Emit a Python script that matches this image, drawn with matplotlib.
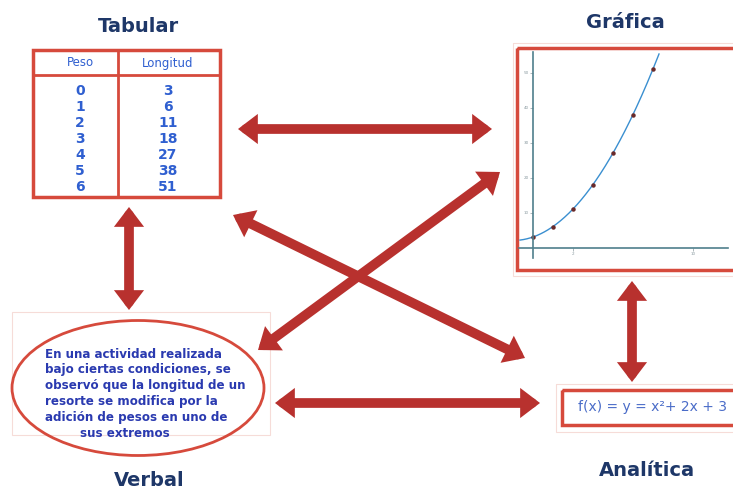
import numpy as np
import matplotlib
matplotlib.use('Agg')
import matplotlib.pyplot as plt
from matplotlib.patches import Rectangle, Ellipse, FancyArrowPatch

# data
peso = [0, 1, 2, 3, 4, 5, 6]
longitud = [3, 6, 11, 18, 27, 38, 51]
headers = ["Peso", "Longitud"]
verbal_lines = ["En una actividad realizada",
                "bajo ciertas condiciones, se",
                "observó que la longitud de un",
                "resorte se modifica por la",
                "adición de pesos en uno de",
                "sus extremos"]
formula = "f(x) = y = x²+ 2x + 3"
titles = ["Tabular", "Gráfica", "Verbal", "Analítica"]

W, H = 733, 493
red = '#d64a3c'
arrow_red = '#b8312e'
navy = '#1e3768'
blue = '#2f5fd0'

fig = plt.figure(figsize=(W/100, H/100), dpi=100)
ax = fig.add_axes([0, 0, 1, 1])
ax.set_xlim(0, W)
ax.set_ylim(H, 0)
ax.axis('off')

# titles
tpos = [(138, 26), (625, 22), (149, 480), (647, 471)]
for t, (x, y) in zip(titles, tpos):
    ax.text(x, y, t, fontsize=14, fontweight='heavy', color=navy,
            ha='center', va='center')

# table
ax.add_patch(Rectangle((33, 50), 187, 147, fill=False, ec=red, lw=2.5))
ax.plot([118, 118], [50, 197], color=red, lw=2)
ax.plot([33, 220], [75, 75], color=red, lw=2)
colx = [80, 168]
for h, x in zip(headers, colx):
    ax.text(x, 63, h, fontsize=8.5, color=blue, ha='center', va='center')
for i, (p, l) in enumerate(zip(peso, longitud)):
    y = 91 + i*16
    ax.text(colx[0], y, str(p), fontsize=10, fontweight='bold', color=blue, ha='center', va='center')
    ax.text(colx[1], y, str(l), fontsize=10, fontweight='bold', color=blue, ha='center', va='center')

# graph panel
ax.add_patch(Rectangle((513, 43), 230, 233, fill=False, ec='#f6dcd8', lw=0.8))
ax.add_patch(Rectangle((517, 48), 226, 222, fill=False, ec=red, lw=2.5))
gx = fig.add_axes([519/W, (H-258)/H, (728-519)/W, (258-52)/H])
gx.patch.set_alpha(0)
gx.set_xlim(-0.7, 9.75)
gx.set_ylim(-3, 55.86)
for s in ['top', 'right']:
    gx.spines[s].set_visible(False)
gx.spines['left'].set_position(('data', 0))
gx.spines['bottom'].set_position(('data', 0))
for s in ['left', 'bottom']:
    gx.spines[s].set_color('#4f7f8c')
    gx.spines[s].set_linewidth(1.2)
gx.set_xticks([2, 8])
gx.set_xticklabels(['2', '10'])
gx.set_yticks([10, 20, 30, 40, 50])
gx.set_yticklabels(['10', '20', '30', '40', '50'])
gx.tick_params(labelsize=3, colors='#8a9aa0', length=2, width=0.5, pad=1)
xs = np.linspace(-0.65, 6.3, 200)
gx.plot(xs, xs**2 + 2*xs + 3, color='#3a8fd0', lw=1)
gx.plot(peso, longitud, 'o', ms=2.2, color='#6a2a2a')

# verbal ellipse
ax.add_patch(Rectangle((12, 312), 258, 123, fill=False, ec='#f6dcd8', lw=0.8))
ax.add_patch(Ellipse((138, 388), 252, 135, fill=False, ec=red, lw=2))
for i, line in enumerate(verbal_lines):
    x = 80 if i == len(verbal_lines) - 1 else 45
    ax.text(x, 354 + i*15.9, line, fontsize=8.6, fontweight='bold', color='#2a3ab0',
            ha='left', va='center')

# analitica box
ax.add_patch(Rectangle((556, 384), 190, 48, fill=False, ec='#f6dcd8', lw=0.8))
ax.add_patch(Rectangle((562, 390), 180, 35, fill=False, ec=red, lw=2.5))
ax.text(652, 407, formula, fontsize=10, color='#4a6cc8', ha='center', va='center')

# arrows
arrows = [((238, 129), (492, 129)),
          ((129, 207), (129, 310)),
          ((233, 215), (525, 358)),
          ((258, 350), (500, 172)),
          ((275, 403), (540, 403)),
          ((632, 281), (632, 382))]
for a, b in arrows:
    ax.add_patch(FancyArrowPatch(a, b, arrowstyle='<|-|>,head_length=0.5,head_width=0.38',
                                 mutation_scale=10, lw=7, color=arrow_red,
                                 shrinkA=0, shrinkB=0, joinstyle='miter'))

fig.savefig('out.png', dpi=100, facecolor='white')
